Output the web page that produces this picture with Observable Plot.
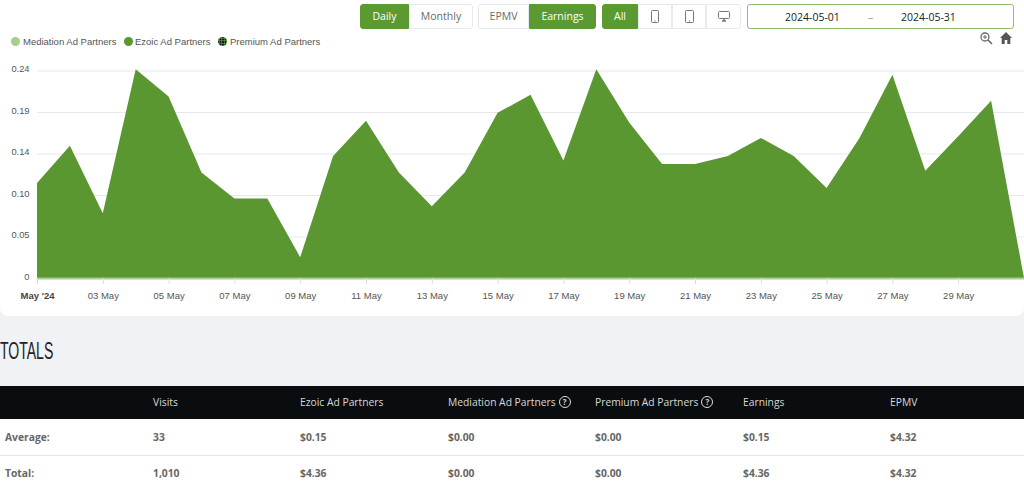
<!DOCTYPE html>
<html><head><meta charset="utf-8">
<script src="https://cdn.jsdelivr.net/npm/d3@7"></script>
<script src="https://cdn.jsdelivr.net/npm/@observablehq/plot@0.6"></script>
<style>
html,body{margin:0;padding:0;width:1024px;height:486px;overflow:hidden;background:#f1f2f6;font-family:"Open Sans",sans-serif}
#panel{position:absolute;left:0;top:0;width:1024px;height:316px;background:#fff;border-radius:0 0 8px 8px}
#chart{position:absolute;left:0;top:0}
#chart svg{display:block;background:transparent}
#chart g[aria-label="x-axis tick label"] text:first-of-type{font-weight:700;fill:#444}
.b{position:absolute;top:4px;height:25px;line-height:25px;text-align:center;font-size:10.5px;color:#6a6a6a;background:#fff;border:1px solid #e7ebf0;box-sizing:border-box;display:flex;align-items:center;justify-content:center}
.b.on{background:#5a9a31;border-color:#5a9a31;color:#fff}
#date{position:absolute;left:747px;top:4px;width:267px;height:25px;box-sizing:border-box;border:1.5px solid #8fc06f;border-radius:3px;font-size:10.5px;color:#222}
#date span{position:absolute;top:4.5px}
.leg{position:absolute;top:36px;font:9.5px "Liberation Sans",sans-serif;color:#555;line-height:12px;white-space:nowrap}
.dot{position:absolute;top:36.5px;width:9px;height:9px;border-radius:50%}
#totals{position:absolute;left:0;top:336px;font:400 23px/30px "Liberation Sans Narrow","Liberation Sans",sans-serif;color:#222;transform-origin:0 0;transform:scaleX(.61)}
#head{position:absolute;left:0;top:386px;width:1024px;height:33px;background:#0a0d10}
#r1{position:absolute;left:0;top:419px;width:1024px;height:36px;background:#fff;border-bottom:1px solid #e4e4e4}
#r2{position:absolute;left:0;top:456px;width:1024px;height:30px;background:#fff}
.c{position:absolute;white-space:nowrap;font-size:10.3px;display:flex;align-items:center;gap:3px}
#head .c{color:#d8d8d8;top:9px;font-weight:500}
#r1 .c{color:#666;top:11px;font-weight:700}
#r2 .c{color:#666;top:10px;font-weight:700}
.q{display:inline-block;width:10px;height:10px;border:1.3px solid #ddd;border-radius:50%;font-size:8px;line-height:10px;text-align:center;font-weight:700;box-sizing:content-box}
</style></head><body>
<div id="panel"></div>
<div id="chart"></div>
<div id="ui"></div>
<div id="totals">TOTALS</div>
<div id="head"></div><div id="r1"></div><div id="r2"></div>
<script>
// ---- chart data ----
const days = ["2024-05-01","2024-05-02","2024-05-03","2024-05-04","2024-05-05","2024-05-06","2024-05-07","2024-05-08","2024-05-09","2024-05-10","2024-05-11","2024-05-12","2024-05-13","2024-05-14","2024-05-15","2024-05-16","2024-05-17","2024-05-18","2024-05-19","2024-05-20","2024-05-21","2024-05-22","2024-05-23","2024-05-24","2024-05-25","2024-05-26","2024-05-27","2024-05-28","2024-05-29","2024-05-30","2024-05-31"];
const ezoic = [0.11,0.153,0.075,0.2415,0.21,0.122,0.092,0.092,0.024,0.141,0.182,0.122,0.083,0.122,0.191,0.212,0.136,0.2415,0.18,0.132,0.132,0.141,0.162,0.141,0.104,0.162,0.235,0.124,0.164,0.205,0];
const mediation = days.map(() => 0);
const yTicks = [0,0.048,0.096,0.144,0.192,0.24];
const yLabels = ["0","0.05","0.10","0.14","0.19","0.24"];
const xTicks = ["2024-05-01","2024-05-03","2024-05-05","2024-05-07","2024-05-09","2024-05-11","2024-05-13","2024-05-15","2024-05-17","2024-05-19","2024-05-21","2024-05-23","2024-05-25","2024-05-27","2024-05-29"];
const xLabels = ["May '24","03 May","05 May","07 May","09 May","11 May","13 May","15 May","17 May","19 May","21 May","23 May","25 May","27 May","29 May"];
// ---- page text ----
const legendNames = ["Mediation Ad Partners","Ezoic Ad Partners","Premium Ad Partners"];
const columns = ["Visits","Ezoic Ad Partners","Mediation Ad Partners","Premium Ad Partners","Earnings","EPMV"];
const average = ["Average:","33","$0.15","$0.00","$0.00","$0.15","$4.32"];
const total = ["Total:","1,010","$4.36","$0.00","$0.00","$4.36","$4.32"];
const dateRange = ["2024-05-01","2024-05-31"];

const GREEN = "#5a9731", LIGHT = "#a6cf8e";
const D = s => new Date(s + "T00:00:00Z");
const rows = days.map((d,i) => ({date:D(d), ezoic:ezoic[i], mediation:mediation[i]}));
const xDates = xTicks.map(D);
const fmtX = d => xLabels[xDates.findIndex(t => +t === +d)];
const fmtY = v => yLabels[yTicks.indexOf(v)];

const plot = Plot.plot({
  width:1024, height:316, marginLeft:37, marginRight:0, marginTop:70.5, marginBottom:38,
  style:{fontFamily:"'Liberation Sans',Arial,sans-serif", background:"transparent"},
  x:{type:"utc", domain:[D(days[0]),D(days[days.length-1])]},
  y:{domain:[0,0.24], grid:false},
  marks:[
    Plot.ruleY(yTicks.slice(1), {stroke:"#e6e8ec", strokeWidth:1, strokeOpacity:1}),
    Plot.areaY(rows, {x:"date", y:"ezoic", fill:GREEN, fillOpacity:1, curve:"linear"}),
    Plot.line(rows, {x:"date", y:"mediation", stroke:LIGHT, strokeWidth:2}),
    Plot.axisY({ticks:yTicks, tickFormat:fmtY, tickSize:0, tickPadding:8, fontSize:9.3, color:"#555", label:null, anchor:"left", dy:-1.5}),
    Plot.axisX({ticks:xDates, tickFormat:fmtX, tickSize:6, tickPadding:8, fontSize:9.5, color:"#555", stroke:"#d9dde3", label:null, anchor:"bottom"})
  ]
});
document.getElementById("chart").append(plot);

// ---- controls ----
const ui = document.getElementById("ui");
const ic = {
 phone:'<svg width="8" height="13" viewBox="0 0 8 13"><rect x=".5" y=".5" width="7" height="12" rx="1" fill="none" stroke="#777"/><circle cx="4" cy="10.9" r=".6" fill="#777"/></svg>',
 tablet:'<svg width="9" height="13" viewBox="0 0 9 13"><rect x=".5" y=".5" width="8" height="12" rx="1" fill="none" stroke="#777"/><circle cx="4.5" cy="10.9" r=".6" fill="#777"/></svg>',
 desk:'<svg width="12" height="11" viewBox="0 0 12 11"><rect x=".5" y=".5" width="11" height="7" rx="1" fill="none" stroke="#777"/><path d="M4 10h4M6 8v2" stroke="#777" stroke-width="1.5"/></svg>'};
const btns = [
 ["Daily",360,49,1,"3px 0 0 3px"],["Monthly",409,64,0,"0 3px 3px 0"],
 ["EPMV",478,51,0,"3px 0 0 3px"],["Earnings",529,67,1,"0 3px 3px 0"],
 ["All",602,36,1,"3px 0 0 3px"],[ic.phone,638,34,0,"0"],[ic.tablet,672,34,0,"0"],[ic.desk,706,35,0,"0 3px 3px 0"]];
for (const [t,l,w,on,r] of btns)
  ui.insertAdjacentHTML("beforeend",`<div class="b${on?" on":""}" style="left:${l}px;width:${w}px;border-radius:${r}">${t}</div>`);
ui.insertAdjacentHTML("beforeend",`<div id="date"><span style="left:37px">${dateRange[0]}</span><span style="left:120px;color:#999">–</span><span style="left:153px">${dateRange[1]}</span></div>`);
// zoom + home icons
ui.insertAdjacentHTML("beforeend",`<svg style="position:absolute;left:979px;top:31px" width="36" height="14" viewBox="0 0 36 14">
<circle cx="6" cy="6" r="4" fill="none" stroke="#666" stroke-width="1.3"/><path d="M9 9l4 4" stroke="#666" stroke-width="1.6"/><path d="M4 6h4M6 4v4" stroke="#666"/>
<path d="M27 1l6 6h-1.7v6h-3v-4h-2.6v4h-3V7H21z" fill="#555"/></svg>`);
// legend
[[11,LIGHT,23],[123.5,GREEN,135],[218,null,230]].forEach(([dx,c,tx],i)=>{
  const bg = c ? `background:${c}` : `background:#111 radial-gradient(circle,#5fa83a 0.8px,transparent 1px) 0 0/2.5px 2.5px`;
  ui.insertAdjacentHTML("beforeend",`<div class="dot" style="left:${dx}px;${bg}"></div><div class="leg" style="left:${tx}px">${legendNames[i]}</div>`);
});
// table
const colX = [153,300,448,595,743,890], rowX = [5,...colX];
const head = document.getElementById("head");
columns.forEach((c,i)=>{
  const q = (i===2||i===3) ? '<span class="q">?</span>' : '';
  head.insertAdjacentHTML("beforeend",`<div class="c" style="left:${colX[i]}px">${c}${q}</div>`);
});
average.forEach((c,i)=>document.getElementById("r1").insertAdjacentHTML("beforeend",`<div class="c" style="left:${rowX[i]}px">${c}</div>`));
total.forEach((c,i)=>document.getElementById("r2").insertAdjacentHTML("beforeend",`<div class="c" style="left:${rowX[i]}px">${c}</div>`));
</script>
</body></html>
